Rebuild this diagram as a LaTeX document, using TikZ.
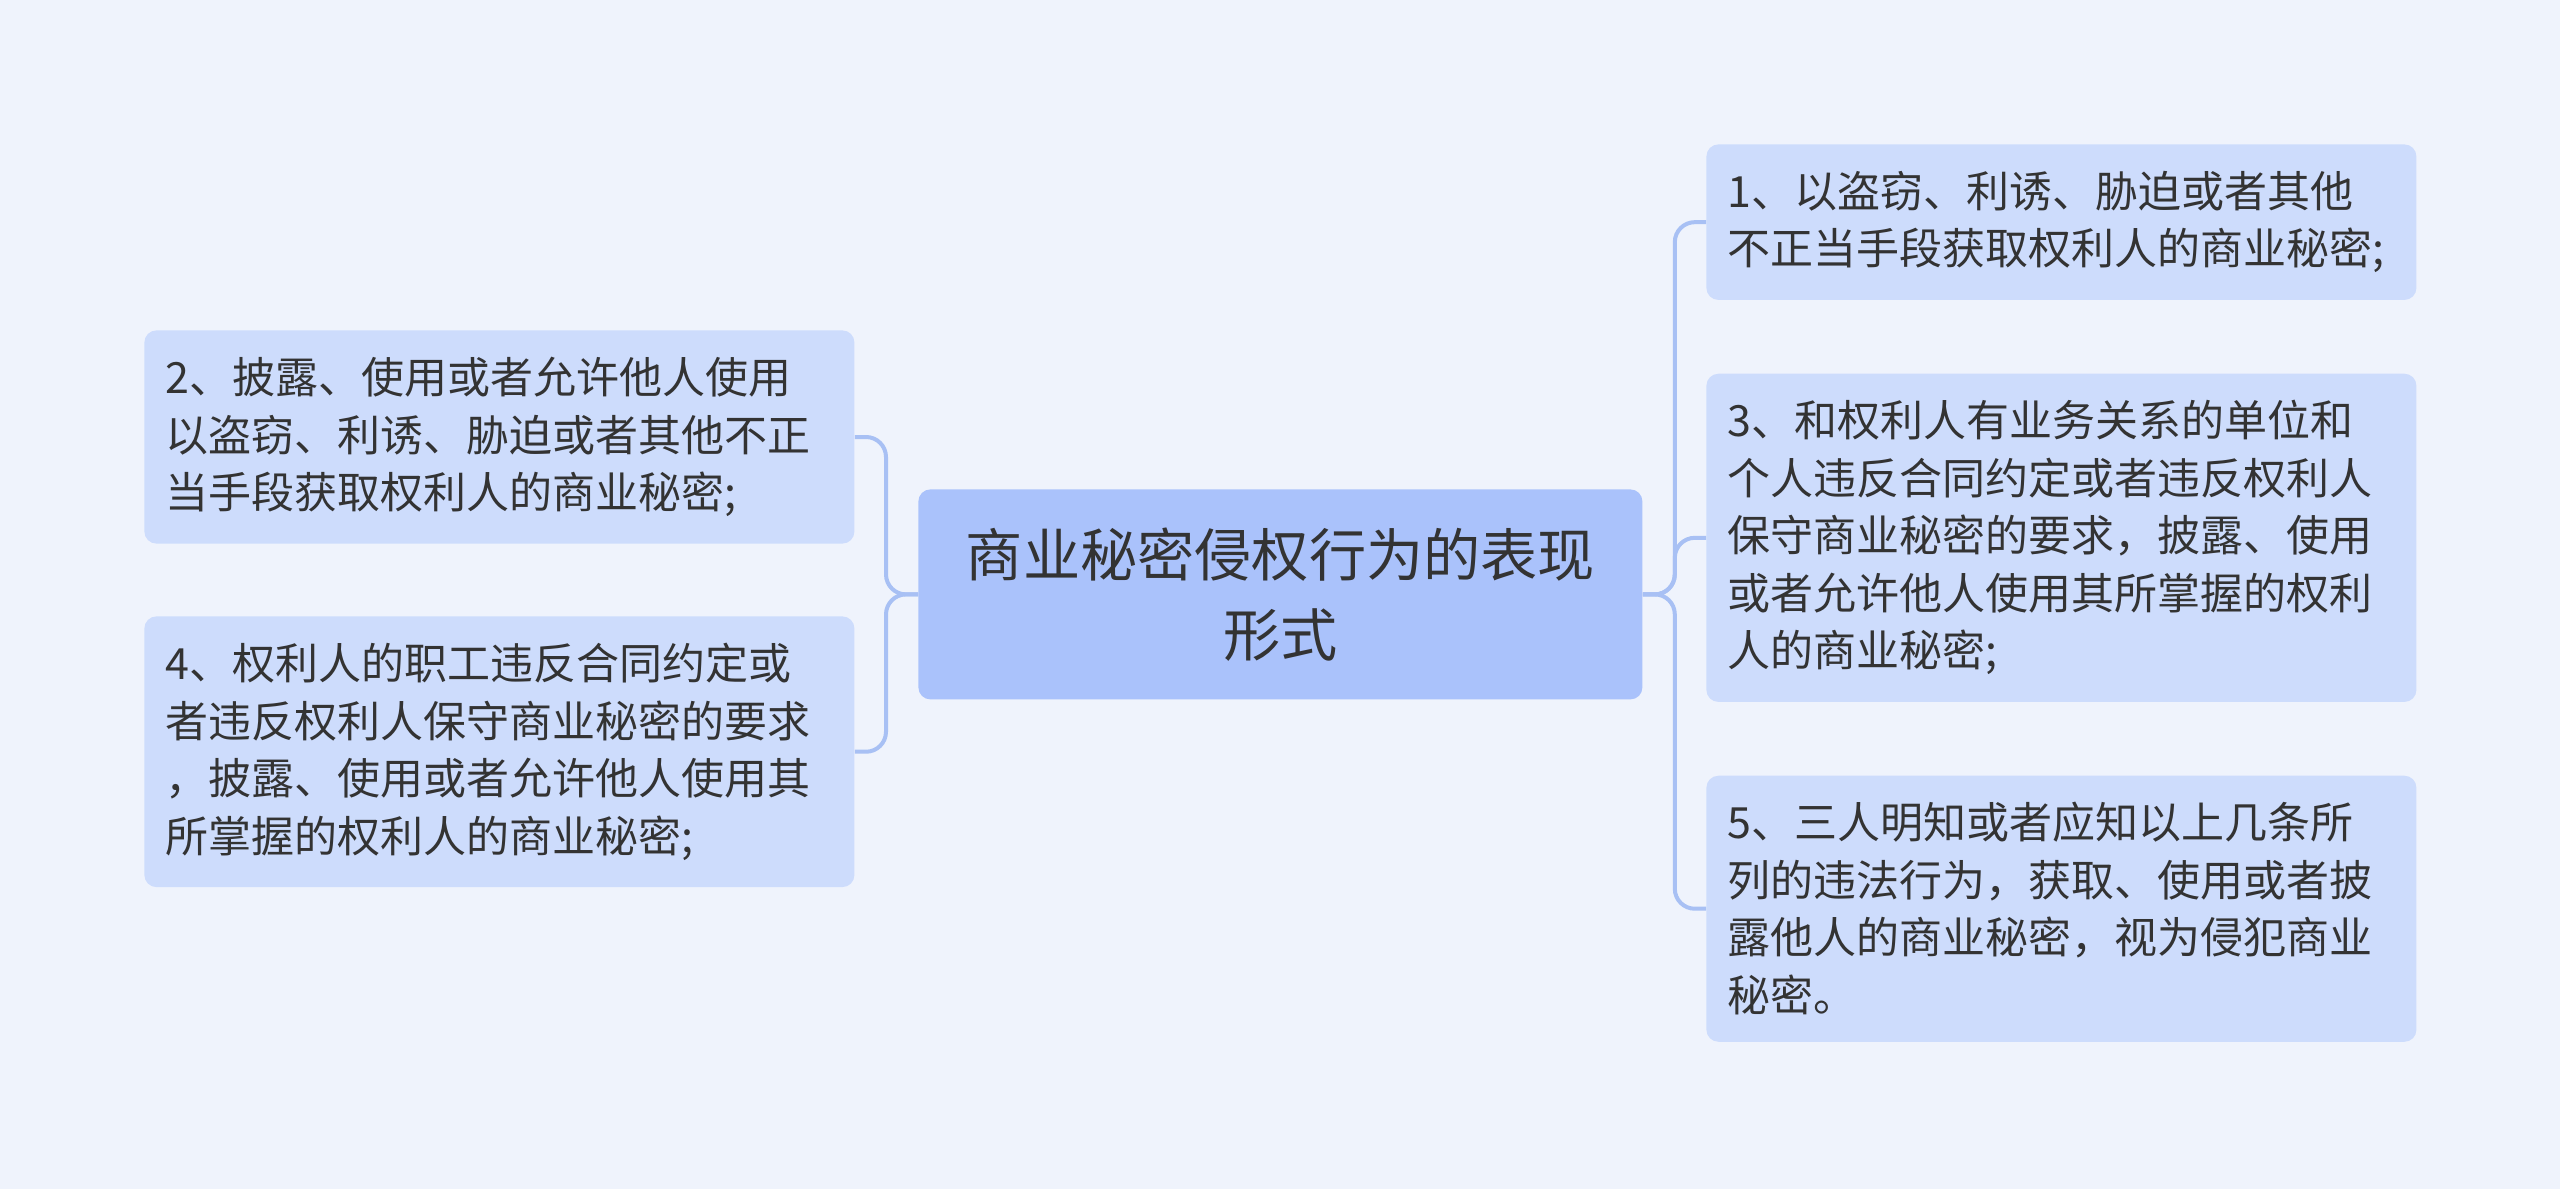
\documentclass[tikz,border=0pt]{standalone}
\usepackage{fontspec}
\setmainfont{Noto Sans CJK SC}
\usepackage{tikz}
\usetikzlibrary{positioning}
\definecolor{bgblue}{RGB}{239,243,252}
\definecolor{leafblue}{RGB}{205,220,252}
\definecolor{rootblue}{RGB}{170,194,251}
\definecolor{linkblue}{RGB}{168,192,244}
\definecolor{textgrey}{RGB}{51,51,51}

\begin{document}
\begin{tikzpicture}[
			x=0.5pt, y=-0.5pt,
			node distance=36.5pt,
			root/.style={rectangle, rounded corners=6pt, fill=rootblue, minimum width=362pt, minimum height=105pt, align=center, text=textgrey, font=\fontsize{28.6pt}{40pt}\selectfont},
			leaf/.style={rectangle, rounded corners=6pt, fill=leafblue, text width=334pt, inner xsep=10.5pt, inner ysep=13.4pt, align=left, text=textgrey, font=\fontsize{21.5pt}{28.75pt}\selectfont},
			link/.style={draw=linkblue, line width=2pt, rounded corners=10pt}
			]
			% Background
			\fill[bgblue] (0,0) rectangle (2560,1189);
			
			% Nodes
			\node[root, anchor=north west] (topic) at (918,489) {商业秘密侵权行为的表现\\形式};
			\node[leaf, anchor=north west] (item1) at (1706,144) {1、以盗窃、利诱、胁迫或者其他\\不正当手段获取权利人的商业秘密;};
			\node[leaf, below=of item1] (item3) {3、和权利人有业务关系的单位和\\个人违反合同约定或者违反权利人\\保守商业秘密的要求，披露、使用\\或者允许他人使用其所掌握的权利\\人的商业秘密;};
			\node[leaf, below=of item3] (item5) {5、三人明知或者应知以上几条所\\列的违法行为，获取、使用或者披\\露他人的商业秘密，视为侵犯商业\\秘密。};
			\node[leaf, anchor=north west] (item2) at (144,330) {2、披露、使用或者允许他人使用\\以盗窃、利诱、胁迫或者其他不正\\当手段获取权利人的商业秘密;};
			\node[leaf, below=36pt of item2] (item4) {4、权利人的职工违反合同约定或\\者违反权利人保守商业秘密的要求\\，披露、使用或者允许他人使用其\\所掌握的权利人的商业秘密;};
			
			% Links
			\draw[link] (topic.east) -- ++(16pt,0) |- (item1.west);
			\draw[link] (topic.east) -- ++(16pt,0) |- (item3.west);
			\draw[link] (topic.east) -- ++(16pt,0) |- (item5.west);
			\draw[link] (topic.west) -- ++(-16pt,0) |- (item2.east);
			\draw[link] (topic.west) -- ++(-16pt,0) |- (item4.east);
		\end{tikzpicture}
\end{document}
